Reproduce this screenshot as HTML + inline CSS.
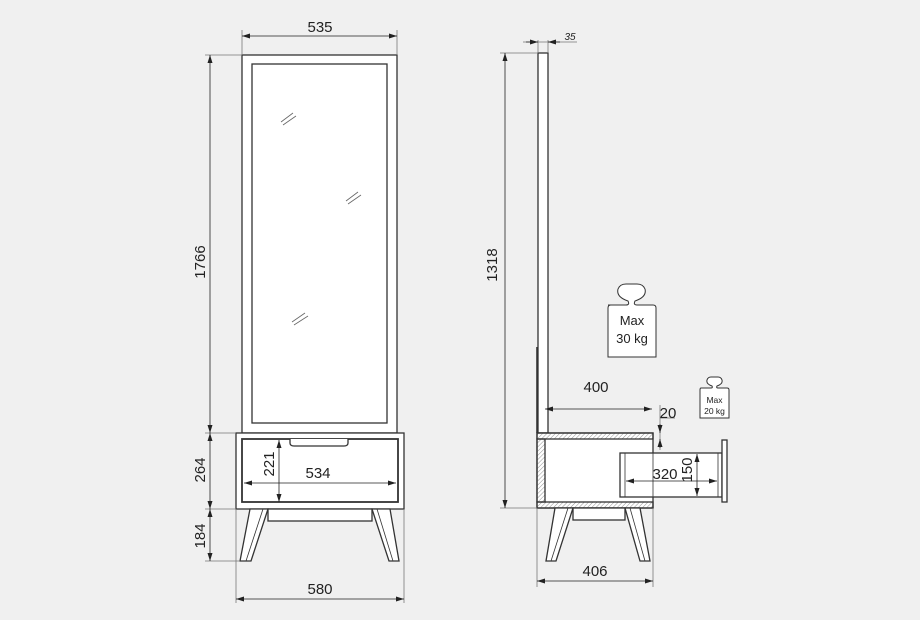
<!DOCTYPE html>
<html><head><meta charset="utf-8"><style>
html,body{margin:0;padding:0;background:#f0f0f0;}
svg{display:block;font-family:"Liberation Sans",sans-serif;}
</style></head><body>
<svg width="920" height="620" viewBox="0 0 920 620" xmlns="http://www.w3.org/2000/svg">
<defs>
<pattern id="h" width="3" height="3" patternUnits="userSpaceOnUse" patternTransform="rotate(45)">
<line x1="0" y1="0" x2="0" y2="3" stroke="#777" stroke-width="0.8"/></pattern>
<marker id="a" markerWidth="8" markerHeight="6" refX="8" refY="3" orient="auto-start-reverse" markerUnits="userSpaceOnUse">
<path d="M0,0.5 L8,3 L0,5.5z" fill="#222"/></marker>
</defs>
<rect width="920" height="620" fill="#f0f0f0"/>
<g stroke="#333" stroke-width="1.3" fill="#fff">
<rect x="242" y="55" width="155" height="378"/>
<rect x="252" y="64" width="135" height="359"/>
<rect x="236" y="433" width="168" height="76"/>
<rect x="242" y="439" width="156" height="63" stroke-width="1.8"/>
<path d="M290,439 L290,443 Q290,446 294,446 L344,446 Q348,446 348,443 L348,439" fill="#fff"/>
<rect x="268" y="509" width="104" height="12"/>
<polygon points="250,509 268,509 251,561 240,561"/>
<polygon points="372,509 390,509 399,561 389,561"/>
</g>
<g stroke="#333" stroke-width="0.8" fill="none">
<line x1="263" y1="509" x2="246" y2="561"/>
<line x1="377" y1="509" x2="393" y2="561"/>
</g>
<g stroke="#666" stroke-width="0.8">
<line x1="281" y1="122" x2="293" y2="113"/><line x1="283" y1="125" x2="296" y2="116"/>
<line x1="346" y1="201" x2="358" y2="192"/><line x1="348" y1="204" x2="361" y2="195"/>
<line x1="292" y1="322" x2="305" y2="313"/><line x1="294" y1="325" x2="308" y2="316"/>
</g>
<g stroke="#333" stroke-width="1.3" fill="#fff">
<rect x="538" y="53" width="10" height="380"/>
<rect x="537" y="433" width="116" height="75"/>
<rect x="537" y="433" width="116" height="6" fill="url(#h)"/>
<rect x="537" y="502" width="116" height="6" fill="url(#h)"/>
<rect x="537" y="439" width="8" height="63" fill="url(#h)"/>
<rect x="620" y="453" width="102" height="44"/>
<rect x="722" y="440" width="5" height="62"/>
<rect x="573" y="508" width="52" height="12"/>
<polygon points="555,508 573,508 556,561 546,561"/>
<polygon points="625,508 640,508 650,561 640,561"/>
</g>
<g stroke="#333" stroke-width="0.8" fill="none">
<line x1="537" y1="347" x2="537" y2="433" stroke-width="1.6"/>
<line x1="625" y1="453" x2="625" y2="497"/><line x1="718" y1="453" x2="718" y2="497"/>
<line x1="653" y1="433" x2="653" y2="508"/>
<line x1="568" y1="508" x2="551" y2="561"/><line x1="630" y1="508" x2="645" y2="561"/>
</g>
<g stroke="#777" stroke-width="0.8" fill="none">
<line x1="242" y1="30" x2="242" y2="55"/><line x1="397" y1="30" x2="397" y2="55"/>
<line x1="205" y1="55" x2="242" y2="55"/><line x1="205" y1="433" x2="236" y2="433"/>
<line x1="205" y1="509" x2="236" y2="509"/><line x1="205" y1="561" x2="240" y2="561"/>
<line x1="236" y1="509" x2="236" y2="603"/><line x1="404" y1="509" x2="404" y2="603"/>
<line x1="500" y1="53" x2="538" y2="53"/><line x1="500" y1="508" x2="537" y2="508"/>
<line x1="538" y1="40" x2="538" y2="53"/><line x1="548" y1="40" x2="548" y2="53"/>
<line x1="523" y1="42" x2="577" y2="42"/>
<line x1="537" y1="508" x2="537" y2="587"/><line x1="653" y1="508" x2="653" y2="587"/>
<line x1="660" y1="405" x2="660" y2="450"/><line x1="660" y1="418" x2="675" y2="418"/>
</g>
<g stroke="#222" stroke-width="0.8" fill="none" marker-start="url(#a)" marker-end="url(#a)">
<line x1="242" y1="36" x2="397" y2="36"/>
<line x1="210" y1="55" x2="210" y2="433"/>
<line x1="210" y1="433" x2="210" y2="509"/>
<line x1="210" y1="509" x2="210" y2="561"/>
<line x1="236" y1="599" x2="404" y2="599"/>
<line x1="279" y1="440" x2="279" y2="502"/>
<line x1="244" y1="483" x2="396" y2="483"/>
<line x1="505" y1="53" x2="505" y2="508"/>
<line x1="545" y1="409" x2="652" y2="409"/>
<line x1="537" y1="581" x2="653" y2="581"/>
<line x1="626" y1="481" x2="717" y2="481"/>
<line x1="697" y1="454" x2="697" y2="496"/>
</g>
<g stroke="#222" stroke-width="0.8" marker-end="url(#a)">
<line x1="526" y1="42" x2="538" y2="42"/><line x1="560" y1="42" x2="548" y2="42"/>
<line x1="660" y1="424" x2="660" y2="433"/><line x1="660" y1="448" x2="660" y2="439"/>
</g>
<g fill="#222" font-size="15" text-anchor="middle">
<text x="320" y="32">535</text>
<text x="320" y="594">580</text>
<text x="318" y="478">534</text>
<text x="596" y="392">400</text>
<text x="595" y="576">406</text>
<text x="668" y="418">20</text>
<text x="665" y="479">320</text>
<text transform="translate(205,262) rotate(-90)">1766</text>
<text transform="translate(205,470) rotate(-90)">264</text>
<text transform="translate(205,536) rotate(-90)">184</text>
<text transform="translate(274,464) rotate(-90)">221</text>
<text transform="translate(497,265) rotate(-90)">1318</text>
<text transform="translate(692,470) rotate(-90)">150</text>
<text x="570" y="40" font-size="10" font-style="italic">35</text>
</g>
<g stroke="#333" stroke-width="1" fill="#fff">
<path d="M608,305 L626,305 Q630,305 628,301 Q616,297 618,289 Q620,284 626,284 L637,284 Q643,284 645,289 Q647,297 635,301 Q633,305 637,305 L653,305 Q656,305 656,308 L656,357 L608,357 L608,308 Q608,305 611,305z"/>
<path d="M701,388 L711,388 Q713,388 712,386 Q706,384 707,380 Q708,377 711,377 L718,377 Q721,377 722,380 Q723,384 717,386 Q716,388 718,388 L727,388 Q729,388 729,390 L729,418 L700,418 L700,390 Q700,388 701,388z"/>
</g>
<g fill="#222" text-anchor="middle">
<text x="632" y="325" font-size="13">Max</text>
<text x="632" y="343" font-size="13">30 kg</text>
<text x="714.5" y="403" font-size="8.5">Max</text>
<text x="714.5" y="414" font-size="8.5">20 kg</text>
</g>
</svg>
</body></html>
